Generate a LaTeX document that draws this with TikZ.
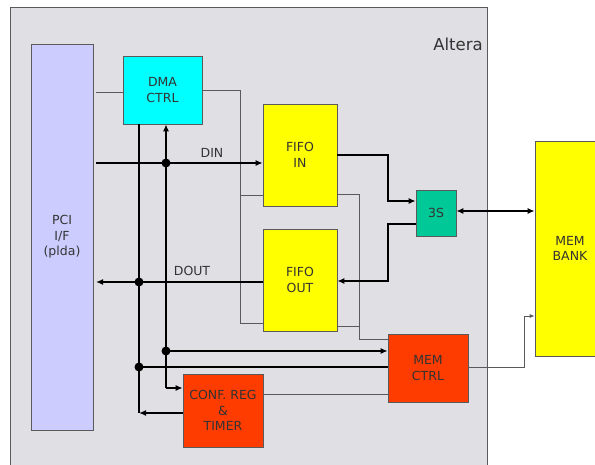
\documentclass[tikz,border=0pt]{standalone}
\usepackage{fontspec}
\setmainfont{DejaVu Sans}
\usetikzlibrary{arrows.meta}
\definecolor{fpga}{RGB}{224,223,227}
\definecolor{pcic}{RGB}{204,204,255}
\definecolor{dmac}{RGB}{0,255,255}
\definecolor{fifoc}{RGB}{255,255,0}
\definecolor{tsc}{RGB}{0,200,150}
\definecolor{ctrlc}{RGB}{255,60,0}
\definecolor{thinc}{RGB}{90,90,90}
\tikzset{
  blk/.style={draw=thinc, line width=0.7pt, align=center, inner sep=0pt,
    font=\fontsize{12.5}{15.5}\selectfont, text=black!80},
  thinln/.style={draw=thinc, line width=0.8pt},
  bus/.style={draw=black, line width=2.2pt},
  arr/.style={-{Latex[length=7pt,width=6pt]}},
  dblarr/.style={{Latex[length=7pt,width=6pt]}-{Latex[length=7pt,width=6pt]}},
  smarr/.style={-{Latex[length=5pt,width=4pt]}},
  jdot/.style={circle, fill=black, inner sep=0pt, minimum size=9pt},
  lbl/.style={font=\fontsize{12.5}{15}\selectfont, text=black!80, inner sep=0pt}
}
\begin{document}
\begin{tikzpicture}[x=1pt,y=-1pt]
\useasboundingbox (0,0) rectangle (595,465);
\fill[fpga] (10,7) rectangle (487,470);
\draw[thinc, line width=0.8pt] (10,470) -- (10,7) -- (487,7) -- (487,470);
\begin{scope}
\clip (0,0) rectangle (595,465);
\node[blk, fill=fifoc, minimum width=70pt, minimum height=215pt] (bank) at (570,248.5) {MEM\\BANK};
\end{scope}
\node[lbl, font=\fontsize{16.5}{20}\selectfont] (alt) at (458,44) {Altera};
\node[blk, fill=pcic, minimum width=62pt, minimum height=386pt] (pci) at (62,237) {PCI\\I/F\\(plda)};
\node[blk, fill=dmac, minimum width=79pt, minimum height=68pt] (dma) at (162.5,90) {DMA\\CTRL};
\node[blk, fill=fifoc, minimum width=74pt, minimum height=102pt] (fin) at (300,155) {FIFO\\IN};
\node[blk, fill=fifoc, minimum width=74pt, minimum height=102pt] (fout) at (300,280) {FIFO\\OUT};
\node[blk, fill=tsc, minimum width=40pt, minimum height=46pt] (ts) at (436,213) {3S};
\node[blk, fill=ctrlc, minimum width=80pt, minimum height=68pt] (mem) at (428,368) {MEM\\CTRL};
\node[blk, fill=ctrlc, minimum width=80pt, minimum height=73pt] (conf) at (223,410.5) {CONF. REG\\\&\\TIMER};
% coordinates
\coordinate (pciR) at (96,0);
\coordinate (vA) at (139,0);
\coordinate (vB) at (166,0);
% thin lines
\draw[thinln] (pciR |- 0,92) -- (dma.west |- 0,92);
\draw[thinln] (dma.east |- 0,90) -| (240,323) -- (fout.west |- 0,323);
\draw[thinln] (240,195) -- (fin.west |- 0,195);
\draw[thinln] (fin.east |- 0,194) -| (359,339) -- (mem.west |- 0,339);
\draw[thinln] (fout.east |- 0,326) -- (359,326);
\draw[thinln] (conf.east |- 0,394) -- (mem.west |- 0,394);
\draw[thinln, smarr] (mem.east |- 0,367) -| (524,316) -- (bank.west |- 0,316);
% buses
\draw[bus, arr] (pciR |- 0,163) -- (fin.west |- 0,163);
\draw[bus, arr] (fout.west |- 0,282) -- (pciR |- 0,282);
\draw[bus, arr] (vB |- 0,388) -- (vB |- dma.south);
\draw[bus, arr] (vB |- 0,388) -- (conf.west |- 0,388);
\draw[bus] (vA |- dma.south) -- (vA |- 0,413);
\draw[bus, arr] (conf.west |- 0,413) -- (vA |- 0,413);
\draw[bus, arr] (vB |- 0,351) -- (mem.west |- 0,351);
\draw[bus] (vA |- 0,367) -- (mem.west |- 0,367);
\draw[bus, arr] (fin.east |- 0,155) -| (388,201) -- (ts.west |- 0,201);
\draw[bus, arr] (ts.west |- 0,224) -| (388,281) -- (fout.east |- 0,281);
\draw[bus, dblarr] (ts.east |- 0,211) -- (bank.west |- 0,211);
% junction dots
\node[jdot] (d1) at (166,163) {};
\node[jdot] (d2) at (139,282) {};
\node[jdot] (d3) at (166,351) {};
\node[jdot] (d4) at (139,367) {};
% labels
\node[lbl] (din) at (212,153) {DIN};
\node[lbl] (dout) at (192,271) {DOUT};
\end{tikzpicture}
\end{document}
